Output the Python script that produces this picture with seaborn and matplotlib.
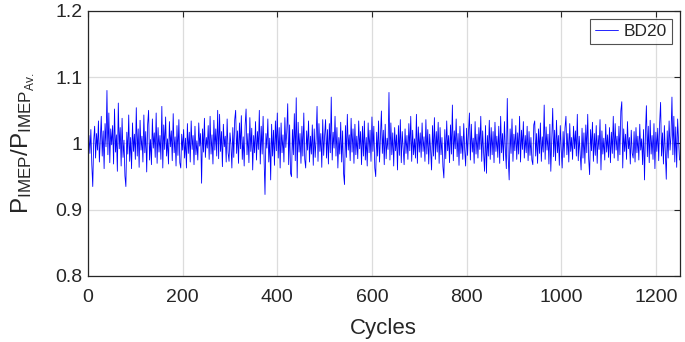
import numpy as np
import matplotlib
matplotlib.use("Agg")
import matplotlib.pyplot as plt
import seaborn as sns

# normalised IMEP (one value per two cycles)
imep_ratio = [
    1.012, 0.985, 1.021, 0.968, 0.935, 1.004, 1.026, 0.978, 1.015, 0.990, 1.034, 0.972, 1.008, 1.041, 0.981, 1.019, 0.962, 1.030, 0.995, 1.080, 0.983, 1.046, 0.971, 1.022, 0.998,
    1.027, 0.969, 1.052, 0.987, 1.013, 0.958, 1.061, 0.992, 1.024, 0.966, 1.038, 0.979, 1.005, 0.951, 0.935, 1.017, 0.984, 1.043, 0.973, 1.009, 0.962, 1.031, 0.988, 1.014, 0.976,
    1.054, 0.981, 1.022, 0.964, 1.035, 0.990, 1.011, 0.972, 1.043, 0.986, 1.018, 0.957, 1.029, 1.050, 0.975, 1.006, 0.968, 1.037, 0.993, 1.016, 0.979, 1.046, 0.970, 1.024, 0.987,
    1.012, 0.976, 1.056, 0.963, 1.028, 0.991, 1.040, 0.981, 1.007, 0.969, 1.033, 0.995, 1.019, 0.974, 1.045, 0.986, 1.010, 0.966, 1.027, 0.982, 1.036, 0.971, 0.963, 1.014, 0.990,
    1.021, 0.978, 1.008, 0.963, 1.030, 0.985, 1.017, 0.972, 1.034, 0.991, 1.012, 0.968, 1.026, 0.983, 1.004, 0.975, 1.031, 0.996, 1.015, 0.940, 1.022, 0.987, 1.038, 0.979, 1.009,
    0.993, 1.027, 0.976, 1.041, 0.984, 1.013, 0.969, 1.035, 0.990, 1.022, 0.981, 1.050, 0.977, 1.044, 0.988, 1.018, 0.965, 1.029, 0.995, 1.011, 0.972, 1.037, 0.986, 0.973, 1.016,
    0.998, 0.963, 1.024, 0.979, 1.036, 1.050, 0.985, 1.019, 0.970, 1.031, 0.992, 1.042, 0.976, 1.010, 0.966, 1.027, 1.052, 0.983, 1.015, 0.971, 1.039, 0.988, 1.023, 0.960, 1.012,
    0.986, 1.033, 0.975, 1.018, 0.991, 1.050, 0.969, 1.026, 0.984, 1.041, 0.978, 0.923, 1.015, 0.993, 1.037, 0.972, 1.008, 0.945, 1.029, 0.981, 1.020, 0.967, 1.034, 0.989, 1.046,
    0.978, 1.024, 0.963, 1.031, 0.986, 1.013, 0.972, 1.039, 0.994, 1.017, 1.060, 0.968, 1.028, 0.955, 0.950, 1.021, 0.983, 1.045, 0.974, 1.069, 0.948, 1.032, 0.987, 1.015, 0.970,
    1.026, 0.981, 1.046, 0.976, 0.963, 1.019, 0.990, 1.034, 0.972, 1.011, 0.984, 1.028, 0.967, 1.022, 0.979, 1.007, 1.056, 0.973, 1.030, 0.988, 1.015, 0.964, 1.036, 0.982, 1.012,
    1.036, 0.978, 1.021, 0.969, 1.030, 0.986, 1.070, 0.975, 1.017, 0.993, 1.041, 0.981, 1.024, 0.963, 1.009, 0.984, 1.032, 0.972, 1.019, 0.955, 0.938, 1.027, 0.979, 1.044, 0.990,
    1.013, 0.974, 1.038, 0.987, 1.022, 0.970, 1.029, 0.983, 1.011, 0.977, 1.034, 0.992, 1.018, 0.968, 1.026, 0.981, 1.034, 0.975, 1.009, 0.966, 1.031, 0.986, 1.020, 0.973, 1.040,
    0.988, 1.026, 0.963, 0.950, 1.017, 0.981, 1.034, 0.972, 1.012, 1.049, 0.985, 1.020, 0.968, 1.029, 0.977, 1.008, 0.991, 1.077, 0.975, 1.031, 0.983, 1.016, 0.966, 1.024, 0.989,
    1.013, 0.960, 1.027, 0.982, 1.036, 0.971, 1.018, 0.994, 0.968, 1.022, 0.985, 1.012, 0.976, 1.030, 0.989, 1.041, 0.973, 1.020, 0.983, 1.007, 0.978, 1.044, 0.970, 1.025, 0.987,
    1.016, 0.979, 1.031, 0.988, 1.010, 0.973, 1.036, 0.984, 1.021, 0.969, 1.014, 0.990, 0.960, 1.027, 0.981, 1.039, 0.976, 1.018, 0.987, 1.032, 0.970, 1.024, 0.983, 1.009, 0.965,
    0.948, 1.021, 0.977, 1.034, 0.989, 1.012, 0.971, 1.028, 0.984, 1.058, 0.974, 1.019, 0.992, 1.037, 0.980, 1.015, 0.967, 1.026, 0.985, 1.011, 0.976, 1.030, 0.990, 0.966, 1.023,
    0.982, 1.017, 1.046, 0.975, 1.029, 0.987, 1.008, 0.970, 1.033, 0.984, 1.014, 0.978, 1.024, 0.991, 1.041, 0.973, 1.019, 0.986, 0.958, 1.027, 0.955, 1.012, 0.981, 1.035, 0.976,
    1.024, 0.983, 1.018, 0.971, 1.032, 0.988, 1.011, 0.979, 1.026, 0.970, 1.041, 0.986, 1.015, 0.974, 1.033, 0.990, 0.962, 1.068, 0.978, 0.945, 1.022, 0.985, 1.037, 0.973, 1.014,
    0.989, 1.027, 0.976, 1.016, 0.984, 1.041, 0.972, 1.020, 0.991, 1.033, 0.978, 1.012, 0.986, 1.026, 0.974, 1.018, 0.982, 1.009, 0.975, 0.968, 1.028, 1.034, 0.981, 1.015, 0.970,
    1.022, 0.985, 1.031, 0.973, 1.010, 0.987, 1.058, 0.976, 1.025, 0.990, 1.014, 0.969, 1.029, 0.958, 1.008, 1.053, 0.980, 1.020, 0.974, 1.035, 0.986, 1.012, 0.967, 1.027, 0.991,
    0.963, 1.018, 0.979, 1.024, 1.041, 0.983, 1.015, 0.972, 1.030, 0.988, 1.009, 0.976, 1.026, 0.992, 1.019, 0.981, 1.044, 0.974, 1.011, 0.985, 0.960, 1.023, 0.978, 1.016, 0.970,
    1.028, 0.986, 1.044, 0.977, 0.953, 1.021, 0.989, 1.032, 0.973, 1.015, 0.982, 1.027, 0.970, 1.012, 0.991, 1.036, 0.960, 1.019, 0.984, 1.008, 0.975, 1.029, 0.987, 1.013, 0.979,
    1.024, 0.971, 1.017, 0.985, 1.041, 0.978, 1.030, 0.990, 1.011, 0.974, 1.026, 0.983, 1.049, 1.063, 0.963, 1.022, 0.988, 1.014, 0.976, 1.033, 0.992, 1.009, 0.969, 1.020, 0.985,
    0.978, 1.018, 0.972, 1.024, 0.986, 1.011, 0.975, 1.029, 0.990, 1.007, 0.968, 1.021, 0.945, 1.016, 1.057, 0.980, 1.026, 0.971, 1.035, 0.984, 1.012, 0.976, 1.030, 0.962, 1.017,
    0.988, 1.023, 0.974, 1.031, 1.062, 0.981, 1.016, 0.969, 1.027, 0.985, 0.946, 1.019, 0.978, 1.034, 0.990, 1.012, 1.070, 0.983, 1.041, 0.972, 1.025, 0.964, 1.037, 1.004, 0.975,
]
cycles = np.arange(2, 2 * len(imep_ratio) + 1, 2)
series_label = "BD20"

x_ticks = [0, 200, 400, 600, 800, 1000, 1200]
y_ticks = [0.8, 0.9, 1.0, 1.1, 1.2]
y_ticklabels = ["0.8", "0.9", "1", "1.1", "1.2"]

sns.set_style("white")
plt.rcParams["font.family"] = ["Liberation Sans", "DejaVu Sans"]
plt.rcParams["mathtext.fontset"] = "custom"
plt.rcParams["mathtext.rm"] = "Liberation Sans"
plt.rcParams["mathtext.it"] = "Liberation Sans"

text_col = "#262626"
fig = plt.figure(figsize=(6.85, 3.42), dpi=100)
ax = fig.add_axes([0.1285, 0.193, 0.8635, 0.775])

sns.lineplot(x=cycles, y=imep_ratio, color="#0000ff", linewidth=0.6,
             estimator=None, label=series_label, ax=ax)

ax.set_xlim(0, 1250)
ax.set_ylim(0.8, 1.2)
ax.set_xticks(x_ticks)
ax.set_yticks(y_ticks)
ax.set_yticklabels(y_ticklabels)
ax.grid(True, color="#dcdcdc", linewidth=0.9)
ax.set_axisbelow(True)
ax.tick_params(direction="in", length=4, width=0.8, top=True, right=True,
               labelsize=14, colors=text_col, labelcolor=text_col)
ax.tick_params(axis="x", pad=9.5)
ax.tick_params(axis="y", pad=4)
for s in ax.spines.values():
    s.set_color(text_col)
    s.set_linewidth(0.9)

ax.set_xlabel("Cycles", fontsize=16, color=text_col, labelpad=8.5)
ax.set_ylabel(r"$\mathregular{P_{IMEP}/P_{IMEP_{Av.}}}$", fontsize=17.5,
              color=text_col, labelpad=13)

leg = ax.legend(loc="upper right", fontsize=12.5, frameon=True, fancybox=False,
                handlelength=1.3, borderpad=0.3, handletextpad=0.3,
                borderaxespad=0.45)
leg.get_frame().set_edgecolor(text_col)
leg.get_frame().set_linewidth(0.8)
for t in leg.get_texts():
    t.set_color(text_col)

fig.savefig("out.png", dpi=100)
plt.close(fig)
